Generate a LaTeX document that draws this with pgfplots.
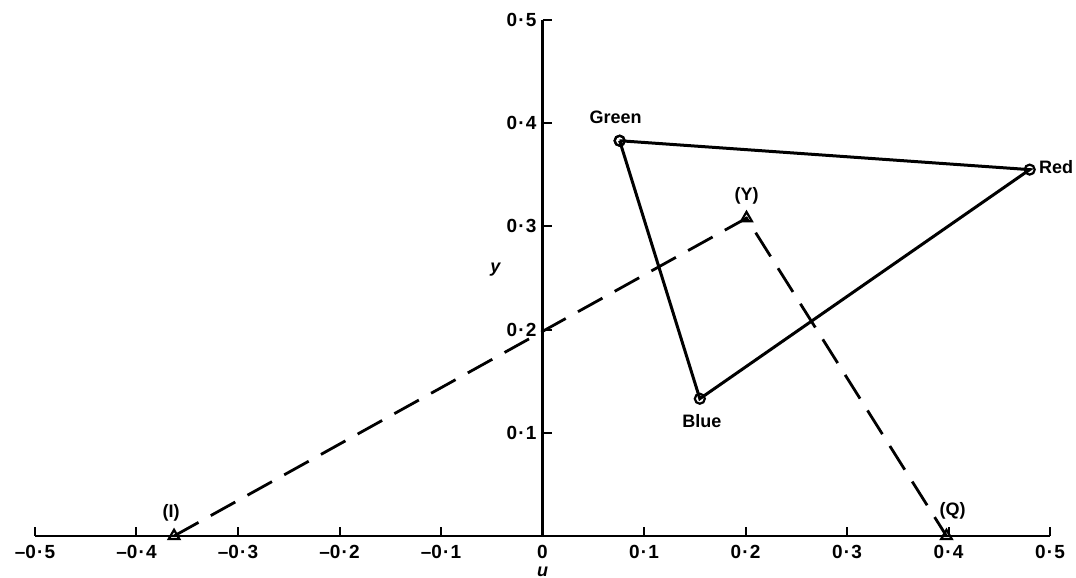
\documentclass[border=0pt]{standalone}
\usepackage{fontspec}
\setmainfont{Liberation Sans}
\usepackage{pgfplots}
\pgfplotsset{compat=1.18}
\newcommand{\dt}{\kern0.6pt·\kern0.6pt}
\begin{document}
\begin{tikzpicture}
\begin{axis}[
  x=507.5pt, y=516pt,
  xmin=-0.5, xmax=0.5, ymin=0, ymax=0.5,
  axis lines=middle,
  axis line style={line width=1.2pt, -},
  xtick={-0.5,-0.4,-0.3,-0.2,-0.1,0,0.1,0.2,0.3,0.4,0.5},
  xticklabels={–0\dt5,–0\dt4,–0\dt3,–0\dt2,–0\dt1,0,0\dt1,0\dt2,0\dt3,0\dt4,0\dt5},
  ytick={0.1,0.2,0.3,0.4,0.5},
  yticklabels={0\dt1,0\dt2,0\dt3,0\dt4,0\dt5},
  tick align=inside,
  major tick length=4.5pt,
  tick style={line width=1pt, black},
  hide obscured x ticks=false,
  clip=false,
  font=\fontsize{9.5}{11}\selectfont\bfseries,
  xticklabel style={yshift=-1pt},
  yticklabel style={xshift=0.5pt},
  enlargelimits=false,
]
\addplot[line width=1.5pt, mark=o, mark size=2.5pt,
  mark options={solid, fill=white, line width=1.1pt}]
  coordinates {(0.076,0.383) (0.48,0.355) (0.155,0.133) (0.076,0.383)};
\addplot[line width=1.4pt, dash pattern=on 14pt off 7pt, mark=triangle, mark size=3.1pt,
  mark options={solid, fill=white, line width=1.1pt}]
  coordinates {(-0.363,0) (0.201,0.308) (0.398,0)};
\begin{scope}[every node/.style={font=\fontsize{9}{11}\selectfont\bfseries}]
\node at (axis cs:0.072,0.406) {Green};
\node[anchor=west, inner sep=1.5pt] at (axis cs:0.486,0.357) {Red};
\node at (axis cs:0.157,0.111) {Blue};
\node at (axis cs:0.201,0.33) {(Y)};
\node at (axis cs:-0.366,0.022) {(I)};
\node at (axis cs:0.404,0.024) {(Q)};
\node at (axis cs:0,-0.035) {\textit{u}};
\node at (axis cs:-0.046,0.258) {\textit{y}};
\end{scope}
\coordinate (A) at (axis cs:-0.5,0);
\coordinate (B) at (axis cs:0.5,0.5);
\end{axis}
\pgfresetboundingbox
\path ([shift={(-17.5pt,-21pt)}]A) rectangle ([shift={(13pt,10pt)}]B);
\end{tikzpicture}
\end{document}
